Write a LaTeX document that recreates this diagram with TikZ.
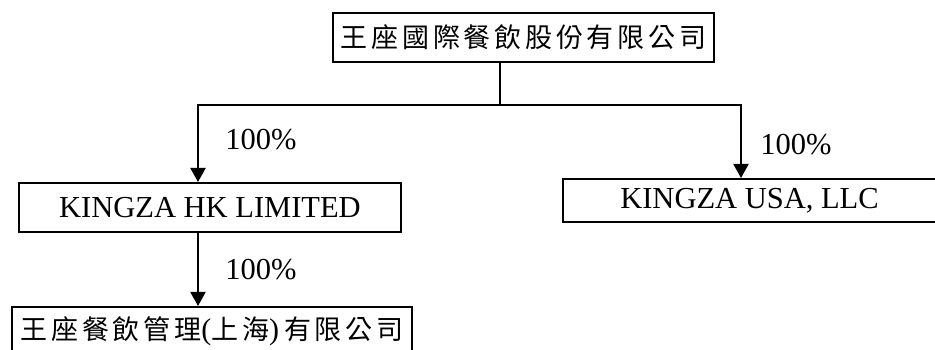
\documentclass[tikz,border=0pt]{standalone}
\usepackage{fontspec}
\setmainfont{Liberation Serif}
\newfontfamily\cjk[LetterSpace=14]{Noto Sans CJK TC}
\usepackage{tikz}
\usetikzlibrary{arrows.meta,positioning}

\begin{document}
\begin{tikzpicture}[x = 1pt, y = 1pt,
  box/.style = {draw, line width = 2pt, inner sep = 0pt, font = \fontsize{30.5}{36}\selectfont},
  pct/.style = {font = \fontsize{30.5}{36}\selectfont},
  arr/.style = {-{Triangle[length = 14pt, width = 15pt]}, line width = 2pt}]
\path[use as bounding box, clip] (0,0) rectangle (935,350);
\node[box, minimum width = 381pt, minimum height = 49pt] (top) at (523.5,312.5) {\cjk\fontsize{27}{32}\selectfont 王座國際餐飲股份有限公司};
\node[box, minimum width = 382pt, minimum height = 49pt] (hk) at (210,142.5) {KINGZA HK LIMITED};
\node[box, minimum width = 373pt, minimum height = 43pt] (usa) at (749.5,149.5) {KINGZA USA, LLC};
\node[box, minimum width = 400pt, minimum height = 49pt] (sub) at (212,18.5) {{\cjk\fontsize{27}{32}\selectfont 王座餐飲管理}{\fontsize{30}{34}\selectfont(}{\cjk\fontsize{27}{32}\selectfont 上海}{\fontsize{30}{34}\selectfont)\,}{\cjk\fontsize{27}{32}\selectfont 有限公司}};
\coordinate (split) at (500,245);
\coordinate (hkin) at (198,245);
\coordinate (usain) at (741,245);
\draw[line width = 2pt] (top.south -| split) -- (split);
\draw[arr] (split) -- (hkin) -- (hkin |- hk.north);
\draw[arr] (split) -- (usain) -- (usain |- usa.north);
\draw[arr] (hk.south -| hkin) -- (hkin |- sub.north);
\node[pct] (p1) at (261,210) {100\%};
\node[pct] (p2) at (796,205) {100\%};
\node[pct] (p3) at (261,80) {100\%};
\end{tikzpicture}
\end{document}
